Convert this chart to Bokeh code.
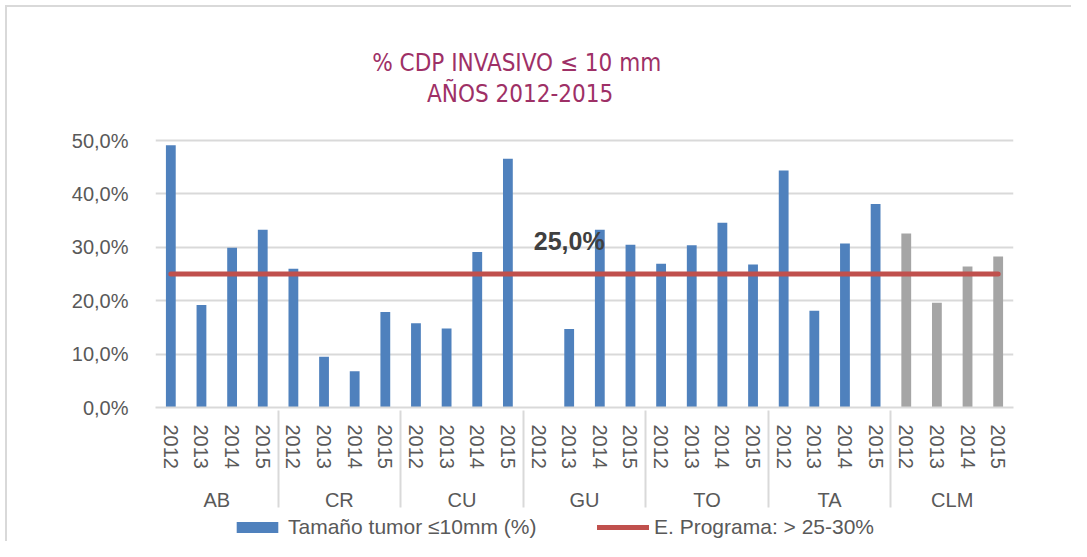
from bokeh.plotting import figure
from bokeh.layouts import column
from bokeh.models import (FactorRange, ColumnDataSource, FixedTicker, Legend, LegendItem, Range1d)
from bokeh.core.properties import value
from bokeh.embed import file_html
from bokeh.resources import INLINE

# ---- data ----
groups = ["AB", "CR", "CU", "GU", "TO", "TA", "CLM"]
years = ["2012", "2013", "2014", "2015"]
values = {
    "AB":  [49.1, 19.2, 29.9, 33.3],
    "CR":  [26.0, 9.5, 6.8, 17.9],
    "CU":  [15.8, 14.8, 29.1, 46.6],
    "GU":  [0.0, 14.7, 33.3, 30.5],
    "TO":  [26.9, 30.4, 34.6, 26.8],
    "TA":  [44.4, 18.1, 30.7, 38.1],
    "CLM": [32.6, 19.6, 26.4, 28.3],
}
target = 25.0
target_label = "25,0%"
y_ticks = [0, 10, 20, 30, 40, 50]
y_tick_labels = ["0,0%", "10,0%", "20,0%", "30,0%", "40,0%", "50,0%"]
title_line1 = "%  CDP INVASIVO ≤ 10 mm"
title_line2 = "AÑOS 2012-2015"
legend_bars = "Tamaño tumor ≤10mm (%)"
legend_line = "E. Programa: > 25-30%"

BLUE = "#4F81BD"
GREY = "#A5A5A5"
RED = "#C0504D"
TXT = "#595959"
GRID = "#D9D9D9"
TITLE_C = "#9E3066"
FONT = "Liberation Sans"
TFONT = "DejaVu Sans Condensed, Liberation Sans"

factors = [(g, y) for g in groups for y in years]
vals = [v for g in groups for v in values[g]]
colors = [GREY if g == "CLM" else BLUE for g in groups for _ in years]
src = ColumnDataSource(dict(x=factors, top=vals, color=colors))
target_src = ColumnDataSource(dict(x=[factors[0], factors[-1]], y=[target, target]))

# frame: 0..50 % spans 267 px; extra room above for the title
Y_TOP = 387 / (267 / 50.0)

xr = FactorRange(*factors, factor_padding=0, group_padding=0,
                 subgroup_padding=0, range_padding=0)

p = figure(width=1071, height=514, output_backend="svg", toolbar_location=None,
           x_range=xr, y_range=(0, Y_TOP),
           min_border_left=155, min_border_right=58,
           min_border_top=20, min_border_bottom=107)
p.outline_line_color = None
p.background_fill_color = "white"
p.border_fill_color = None

bars = p.vbar(x="x", top="top", width=0.32, source=src, fill_color="color",
              line_color="color", line_width=0)
line = p.line(x="x", y="y", source=target_src, line_color=RED,
              line_width=5, line_cap="round")
p.text(x=[("GU", "2013")], y=[target], text=[target_label], text_align="center",
       text_baseline="middle", y_offset=-33, text_font=value(FONT),
       text_font_size="25px", text_font_style="bold", text_color="#404040")

# title (two centred lines above the 50 % gridline)
p.text(x=[11.9, 11.9], y=[64.6, 58.8], text=[title_line1, title_line2],
       text_align="center", text_baseline="middle", text_font=value(TFONT),
       text_font_size="24px", text_color=TITLE_C)

# y axis
p.yaxis.ticker = FixedTicker(ticks=y_ticks)
p.yaxis.major_label_overrides = {t: l for t, l in zip(y_ticks, y_tick_labels)}
p.yaxis.axis_line_color = None
p.yaxis.major_tick_line_color = None
p.yaxis.minor_tick_line_color = None
p.yaxis.major_label_standoff = 21
p.yaxis.major_label_text_font = FONT
p.yaxis.major_label_text_font_size = "20px"
p.yaxis.major_label_text_color = TXT
p.ygrid.grid_line_color = GRID
p.ygrid.grid_line_width = 2
p.xgrid.grid_line_color = None

# x axis
xa = p.xaxis[0]
xa.axis_line_color = GRID
xa.axis_line_width = 2
xa.major_tick_line_color = None
xa.major_tick_out = 0
xa.major_label_orientation = "vertical"
xa.major_label_standoff = 17
xa.major_label_text_font = FONT
xa.major_label_text_font_size = "20px"
xa.major_label_text_color = TXT
xa.group_text_font = FONT
xa.group_text_font_size = "20px"
xa.group_text_font_style = "normal"
xa.group_text_color = TXT
xa.separator_line_color = GRID
xa.separator_line_width = 2

# legend strip under the chart (same series, drawn out of view; only keys show)
lg = figure(width=1071, height=27, output_backend="svg", toolbar_location=None,
            x_range=xr, y_range=Range1d(1000, 1001),
            min_border_left=155, min_border_right=58, min_border_top=0,
            min_border_bottom=0)
lg.axis.visible = False
lg.grid.visible = False
lg.outline_line_color = None
lg.background_fill_color = None
lg.border_fill_color = None
key_bar = lg.vbar(x="x", top="top", width=0.32, source=src, fill_color=BLUE,
                  line_color=BLUE, line_width=0)
key_line = lg.line(x="x", y="y", source=target_src, line_color=RED, line_width=5,
                   line_cap="round")
legend = Legend(items=[LegendItem(label=legend_bars, renderers=[key_bar]),
                       LegendItem(label=legend_line, renderers=[key_line])],
                orientation="horizontal", location=(76, 2),
                glyph_width=52, glyph_height=14, label_standoff=5, spacing=29,
                label_width=280, padding=0, margin=0, border_line_color=None,
                background_fill_alpha=0,
                label_text_font=FONT, label_text_font_size="21px",
                label_text_color=TXT)
lg.add_layout(legend, "center")

layout = column(p, lg, spacing=0)
layout.styles = {"background-color": "white",
                 "box-shadow": "inset 5px 5px 0 0 white, inset 7px 7px 0 0 #D9D9D9"}

open("out.html", "w").write(file_html(layout, INLINE))
